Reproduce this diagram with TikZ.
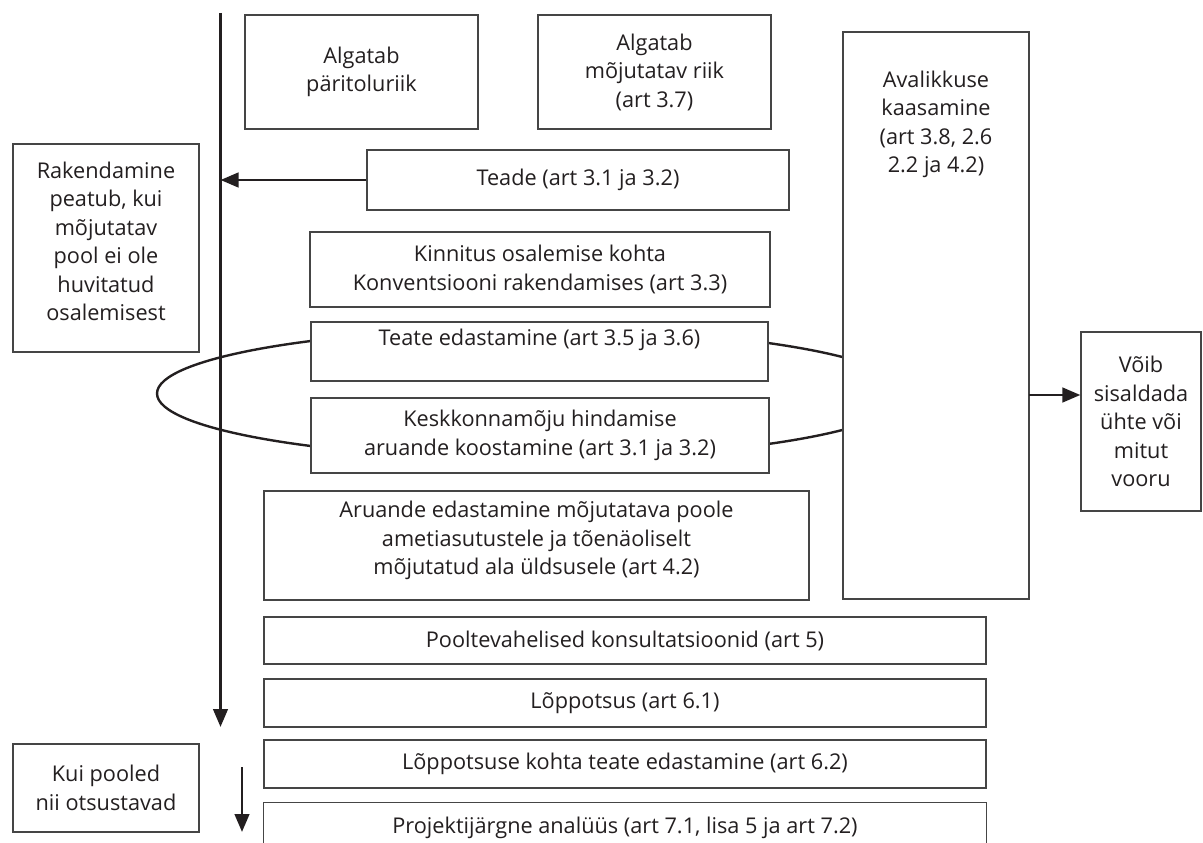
\documentclass[tikz,border=0pt]{standalone}
\usepackage{fontspec}
\setmainfont{Open Sans}
\usetikzlibrary{arrows.meta}
\definecolor{ink}{HTML}{231F20}
\definecolor{frame}{HTML}{454545}
\begin{document}
\begin{tikzpicture}[x=1pt,y=-1pt,
  txt/.style={inner sep=0pt, align=center, text=ink, font=\fontsize{21.7}{28.5}\selectfont},
  box/.style={txt, rectangle, draw=frame, line width=1.2pt, fill=white},
  plain/.style={txt, rectangle, fill=white},
  dims/.style 2 args={minimum width=#1pt, minimum height=#2pt},
  flow/.style={draw=ink, line width=2.8pt, -{Triangle[length=18pt,width=14.5pt]}},
  ring/.style={draw=ink, line width=2.4pt}
]
\useasboundingbox (0,0) rectangle (1203,843);

% loop of rounds (drawn first, the boxes hide its inner part)
\draw[ring] (532,393.5) ellipse [x radius=375pt, y radius=65pt];

% initiating parties
\node[box, dims={233}{114}] (algA) at (361.5,72) {Algatab\\päritoluriik};
\node[box, dims={233}{114}] (algB) at (654.5,72) {Algatab\\mõjutatav riik\\(art 3.7)};

% public participation column
\node[box, dims={186}{567}] (avalik) at (936,315.5) {};
\node[txt, anchor=north] (avaliktxt) at ([yshift=-39pt]avalik.north)
  {Avalikkuse\\kaasamine\\(art 3.8, 2.6\\2.2 ja 4.2)};

% left side notes
\node[box, dims={186}{208}] (rak) at (106,248) {};
\node[txt, anchor=north] (raktxt) at ([yshift=-18pt]rak.north)
  {Rakendamine\\peatub, kui\\mõjutatav\\pool ei ole\\huvitatud\\osalemisest};
\node[box, dims={186}{88}] (kui) at (106,788) {Kui pooled\\nii otsustavad};

% procedure steps
\node[box, dims={422}{60}] (teade) at (578,180) {Teade (art 3.1 ja 3.2)};
\node[box, dims={460}{75}] (kinn) at (540,269.5)
  {Kinnitus osalemise kohta\\Konventsiooni rakendamises (art 3.3)};
\node[box, dims={457}{59}] (tedast) at (539.5,351.5) {};
\node[txt] (tedasttxt) at ([yshift=12pt]tedast.center) {Teate edastamine (art 3.5 ja 3.6)};
\node[box, dims={458}{75}] (kesk) at (540,435.5)
  {Keskkonnamõju hindamise\\aruande koostamine (art 3.1 ja 3.2)};
\node[box, dims={545}{109}] (aru) at (536.5,545.5) {};
\node[txt] (arutxt) at ([yshift=5pt]aru.center)
  {Aruande edastamine mõjutatava poole\\ametiasutustele ja tõenäoliselt\\mõjutatud ala üldsusele (art 4.2)};
\node[box, dims={722}{47}] (pool) at (625,640.5) {Pooltevahelised konsultatsioonid (art 5)};
\node[box, dims={722}{48}] (lopp) at (625,703) {Lõppotsus (art 6.1)};
\node[box, dims={722}{48}] (lkohta) at (625,764) {Lõppotsuse kohta teate edastamine (art 6.2)};
% last step runs past the lower edge: its frame is left open at the bottom
\node[plain, dims={722}{50}] (proj) at (625,827.5) {Projektijärgne analüüs (art 7.1, lisa 5 ja art 7.2)};
\draw[draw=frame, line width=1.3pt] (proj.south west) -- (proj.north west) -- (proj.north east) -- (proj.south east);

% rounds note
\node[box, dims={120}{179}] (voib) at (1141,421.5) {Võib\\sisaldada\\ühte või\\mitut\\vooru};

% connectors
\coordinate (flowtop) at (220.5,13);
\coordinate (flowend) at (220.5,727);
\draw[flow] (flowtop) -- (flowend);
\draw[flow] (teade.west) -- (teade.west -| flowtop);
\coordinate (roundsout) at (1029,395);
\draw[flow] (roundsout) -- (roundsout -| voib.west);
\coordinate (kuistart) at (242,767);
\coordinate (kuiend) at (242,832);
\draw[flow] (kuistart) -- (kuiend);
\end{tikzpicture}
\end{document}
